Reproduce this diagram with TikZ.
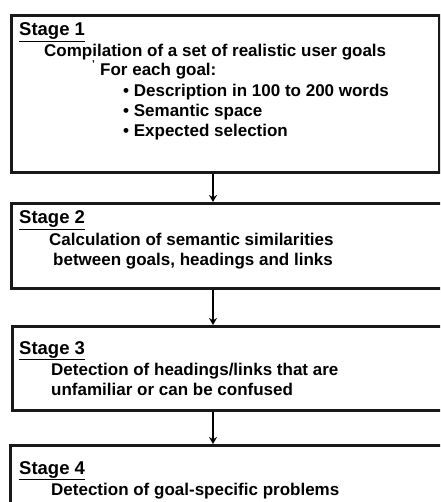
\documentclass[tikz,border=0pt]{standalone}
\usepackage{fontspec}
\setmainfont{Liberation Sans}
\usetikzlibrary{arrows.meta}
\begin{document}
\begin{tikzpicture}[x=1pt,y=-1pt,
  box/.style={draw=black!90, line width=2.6pt, rectangle, anchor=north west, inner sep=0pt, fill=white},
  txt/.style={anchor=base west, inner sep=0pt, font=\bfseries\fontsize{17}{20}\selectfont},
  stg/.style={txt, font=\bfseries\fontsize{18.5}{20}\selectfont},
  arr/.style={line width=1.4pt, -{Stealth[length=7pt,width=8pt]}}]
\useasboundingbox (0,0) rectangle (440,502);
\begin{scope}
\clip (0,0) rectangle (440,502);
\node[box, minimum width=428pt, minimum height=157pt] (b1) at (10,14) {};
\node[box, minimum width=440pt, minimum height=85pt] (b2) at (10,202) {};
\node[box, minimum width=440pt, minimum height=84pt] (b3) at (11,325) {};
\node[box, minimum width=440pt, minimum height=80pt] (b4) at (9,444) {};
\end{scope}
\coordinate (ax) at (213,0);
\draw[arr] (b1.south -| ax) -- (b2.north -| ax);
\draw[arr] (b2.south -| ax) -- (b3.north -| ax);
\draw[arr] (b3.south -| ax) -- (b4.north -| ax);
% box 1
\node[stg] (s1) at (19,36) {\underline{Stage 1}};
\node[txt] (t11) at (44,57) {Compilation of a set of realistic user goals};
\node[txt, font=\bfseries\fontsize{10}{10}\selectfont] (t12a) at (92,68) {'};
\node[txt] (t12) at (100,76) {For each goal:};
\node[txt] (t13) at (123,97) {• Description in 100 to 200 words};
\node[txt] (t14) at (123,117) {• Semantic space};
\node[txt] (t15) at (123,137) {• Expected selection};
% box 2
\node[stg] (s2) at (19,224) {\underline{Stage 2}};
\node[txt] (t21) at (49,245) {Calculation of semantic similarities};
\node[txt] (t22) at (53,265) {between goals, headings and links};
% box 3
\node[stg] (s3) at (19,354) {\underline{Stage 3}};
\node[txt] (t31) at (51,375) {Detection of headings/links that are};
\node[txt] (t32) at (51,395) {unfamiliar or can be confused};
% box 4
\node[stg] (s4) at (19,474) {\underline{Stage 4}};
\node[txt] (t41) at (51,495) {Detection of goal-specific problems};
\end{tikzpicture}
\end{document}
